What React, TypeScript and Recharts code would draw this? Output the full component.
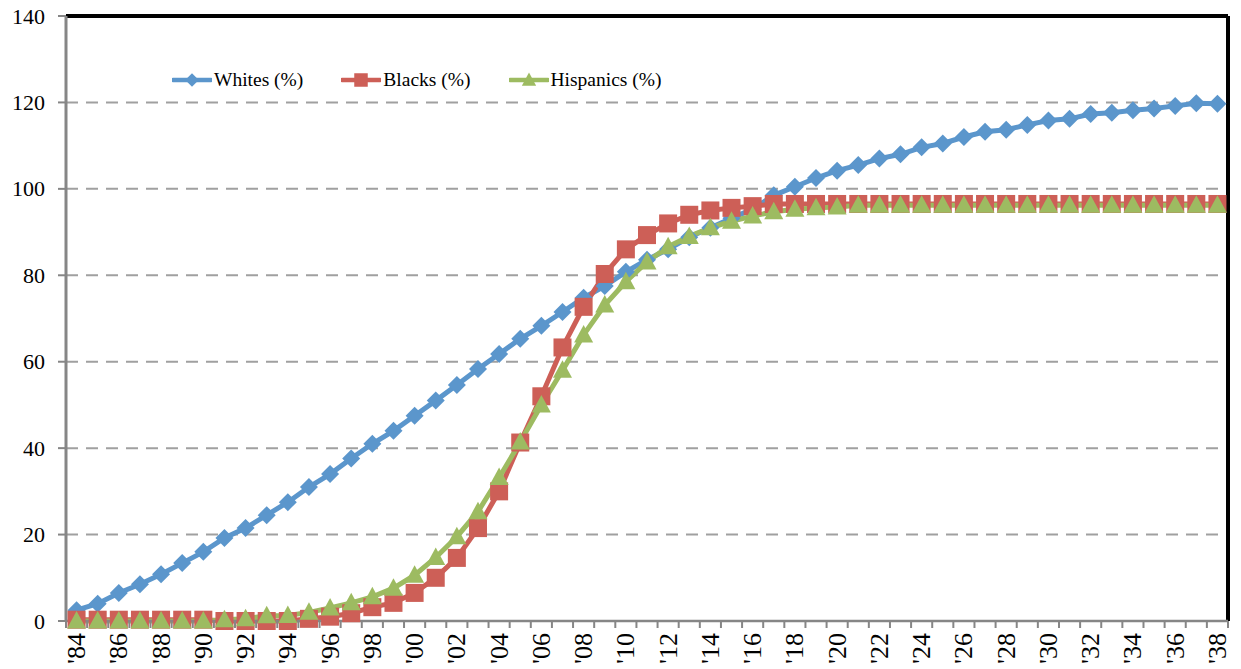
import React from 'react';
import { LineChart, Line, XAxis, YAxis, CartesianGrid, ReferenceLine } from 'recharts';

// categories: one point per year
const years = Array.from({ length: 55 }, (_, i) => 1984 + i);

const whites = [
  2.5, 4, 6.5, 8.5, 10.8, 13.4, 16, 19.2, 21.5, 24.5, 27.5, 31, 34, 37.6, 41, 44,
  47.5, 51, 54.6, 58.3, 61.8, 65.3, 68.3, 71.5, 74.8, 77.5, 80.8, 83.6, 86, 88.8, 91, 93.2, 95.3,
  98.5, 100.5, 102.5, 104.2, 105.5, 107, 108, 109.6, 110.5, 112, 113.2, 113.7, 114.8, 115.8, 116.2,
  117.3, 117.6, 118.2, 118.6, 119.2, 119.8, 119.7,
];

const blacks = [
  0.3, 0.3, 0.3, 0.3, 0.3, 0.3, 0.3, 0, 0, 0, 0, 0.5, 1, 1.8, 3.2, 4.2,
  6.5, 10, 14.6, 21.5, 30, 41.3, 52, 63.3, 72.7, 80.3, 86, 89.3, 92, 94, 95, 95.6, 96,
  96.5, 96.5, 96.5, 96.5, 96.5, 96.5, 96.5, 96.5, 96.5, 96.5, 96.5, 96.5, 96.5, 96.5, 96.5,
  96.5, 96.5, 96.5, 96.5, 96.5, 96.5, 96.5,
];

const hispanics = [
  0, 0, 0, 0, 0, 0, 0, 0.3, 0.5, 1.2, 1.3, 2, 3, 4.2, 5.6, 7.6,
  10.6, 14.7, 19.5, 25.3, 33.2, 41.4, 50, 58, 66.2, 73.1, 78.5, 83.1, 86.6, 89, 91, 92.5, 93.7,
  94.7, 95.3, 95.6, 95.8, 96.2, 96.2, 96.2, 96.2, 96.2, 96.2, 96.2, 96.2, 96.2, 96.2, 96.2,
  96.2, 96.2, 96.2, 96.2, 96.2, 96.2, 96.2,
];

const yTicks = [0, 20, 40, 60, 80, 100, 120, 140];

const data = years.map((year, i) => ({
  year,
  whites: whites[i],
  blacks: blacks[i],
  hispanics: hispanics[i],
}));

// boundaries between years carry the tick marks, labels sit on every other year
const boundaryTicks = [...years.map((y) => y - 0.5), years[years.length - 1] + 0.5];

const BLUE = '#5B96CC';
const RED = '#CD5F57';
const GREEN = '#9DBB61';
const FONT = "'Liberation Serif', 'Times New Roman', Times, 'DejaVu Serif', serif";

const W = 1241;
const H = 669;
const LEFT = 66;
const RIGHT = 13;
const PLOT_W = W - LEFT - RIGHT;
const HALF_STEP = PLOT_W / years.length / 2;

const Diamond = ({ cx, cy, fill }: any) =>
  cx == null ? null : (
    <polygon points={`${cx},${cy - 9} ${cx + 9},${cy} ${cx},${cy + 9} ${cx - 9},${cy}`} fill={fill} />
  );

const Square = ({ cx, cy, fill }: any) =>
  cx == null ? null : <rect x={cx - 9} y={cy - 9} width={18} height={18} fill={fill} />;

const Triangle = ({ cx, cy, fill }: any) =>
  cx == null ? null : (
    <polygon points={`${cx},${cy - 10} ${cx + 9.5},${cy + 7.5} ${cx - 9.5},${cy + 7.5}`} fill={fill} />
  );

const XTick = ({ x, y, payload }: any) => {
  const yr = payload.value + 0.5;
  if (yr % 2 !== 0) return null;
  const lx = x + HALF_STEP;
  return (
    <text
      transform={`translate(${lx}, ${y + 3}) rotate(-90)`}
      textAnchor="end"
      dominantBaseline="central"
      style={{ fontFamily: FONT }}
      fontSize={26}
      fill="#000"
    >
      {"'" + String(yr).slice(2)}
    </text>
  );
};

const YTick = ({ x, y, payload }: any) => (
  <text x={x} y={y} textAnchor="end" dominantBaseline="central" style={{ fontFamily: FONT }} fontSize={22} fill="#000">
    {payload.value}
  </text>
);

const legendItems = [
  { name: 'Whites (%)', color: BLUE, Marker: Diamond },
  { name: 'Blacks (%)', color: RED, Marker: Square },
  { name: 'Hispanics (%)', color: GREEN, Marker: Triangle },
];

const ChartLegend = () => (
  <div
    style={{
      position: 'absolute',
      top: 69,
      left: 172,
      display: 'flex',
      alignItems: 'center',
      fontFamily: FONT,
      fontSize: 19.5,
      color: '#000',
    }}
  >
    {legendItems.map(({ name, color, Marker }) => (
      <div key={name} style={{ display: 'flex', alignItems: 'center', marginRight: 38 }}>
        <svg width={40} height={20} style={{ display: 'block' }}>
          <line x1={1} y1={10} x2={39} y2={10} stroke={color} strokeWidth={4.5} strokeLinecap="round" />
          <g transform="translate(20,10) scale(0.75) translate(-20,-10)">
            <Marker cx={20} cy={10} fill={color} />
          </g>
        </svg>
        <span style={{ marginLeft: 2 }}>{name}</span>
      </div>
    ))}
  </div>
);

export default function App() {
  return (
    <div style={{ width: W, height: H, background: '#fff', position: 'relative', overflow: 'hidden' }}>
      <style>{'body{margin:0}'}</style>
      <LineChart width={W} height={H} data={data} margin={{ top: 16, right: RIGHT, bottom: 0, left: 0 }}>
        <CartesianGrid vertical={false} stroke="#A0A0A0" strokeWidth={2} strokeDasharray="12 8" />
        <XAxis
          dataKey="year"
          type="number"
          domain={[years[0] - 0.5, years[years.length - 1] + 0.5]}
          ticks={boundaryTicks}
          interval={0}
          height={48}
          tick={<XTick />}
          tickSize={7}
          tickLine={{ stroke: '#868686', strokeWidth: 2 }}
          axisLine={{ stroke: '#868686', strokeWidth: 2.5 }}
        />
        <YAxis
          domain={[0, 140]}
          ticks={yTicks}
          width={LEFT}
          tickSize={8}
          tickMargin={13}
          tick={<YTick />}
          tickLine={{ stroke: '#868686', strokeWidth: 2 }}
          axisLine={{ stroke: '#868686', strokeWidth: 3 }}
        />
        <ReferenceLine y={140} stroke="#000" strokeWidth={4} />
        <ReferenceLine x={years[years.length - 1] + 0.5} stroke="#000" strokeWidth={4} />
        <Line
          dataKey="whites"
          stroke={BLUE}
          strokeWidth={5}
          dot={<Diamond fill={BLUE} />}
          activeDot={false}
          isAnimationActive={false}
        />
        <Line
          dataKey="blacks"
          stroke={RED}
          strokeWidth={5}
          dot={<Square fill={RED} />}
          activeDot={false}
          isAnimationActive={false}
        />
        <Line
          dataKey="hispanics"
          stroke={GREEN}
          strokeWidth={5}
          dot={<Triangle fill={GREEN} />}
          activeDot={false}
          isAnimationActive={false}
        />
      </LineChart>
      <ChartLegend />
    </div>
  );
}
